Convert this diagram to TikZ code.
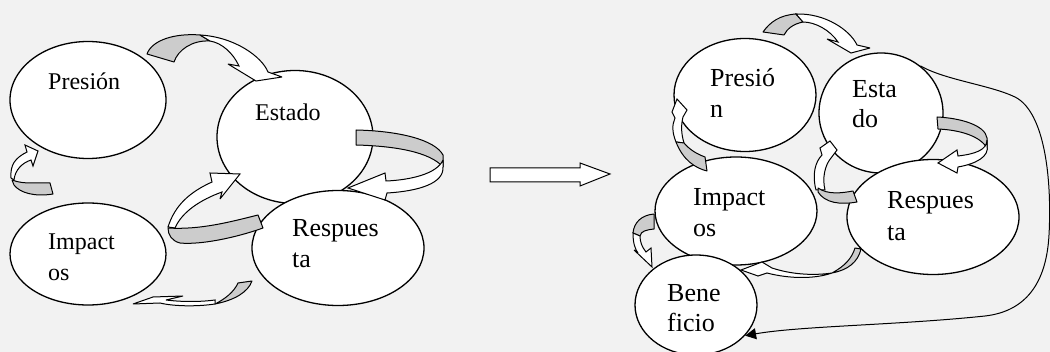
\documentclass[tikz,border=0pt]{standalone}
\usepackage{fontspec}
\setmainfont{Liberation Serif}
\usetikzlibrary{shapes.geometric,arrows.meta}
\definecolor{bg}{HTML}{F2F2F2}
\definecolor{band}{HTML}{CCCCCC}
\newcommand\lfa{\fontsize{24}{30}\selectfont}
\newcommand\lfb{\fontsize{26}{32}\selectfont}
\begin{document}
\begin{tikzpicture}[x=1pt,y=-1pt,
 ell/.style={ellipse,draw,fill=white,line width=1.3pt,inner sep=0},
 lbla/.style={anchor=base west,inner sep=0,font=\lfa},
 lblb/.style={anchor=base west,inner sep=0,font=\lfb},
 back/.style={fill=band,draw,line width=1pt,line join=round},
 front/.style={fill=white,draw,line width=1pt,line join=miter,miter limit=4},
 conn/.style={draw,line width=1pt}]
\fill[bg] (0,0) rectangle (1050,352);
\useasboundingbox (0,0) rectangle (1050,352);

% left diagram
\node[ell,minimum width=156pt,minimum height=117pt] (p1) at (88,100) {};
\node[ell,minimum width=156pt,minimum height=133pt] (e1) at (295,137) {};
\node[ell,minimum width=156pt,minimum height=102pt] (i1) at (88,254) {};
\node[ell,minimum width=172pt,minimum height=115pt] (r1) at (338,248) {};
\node[lbla] (tp1) at (48,90) {Presión};
\node[lbla] (te1) at (255,121) {Estado};
\node[lbla] (ti1a) at (48,250) {Impact};
\node[lbla] (ti1b) at (48,281) {os};
\node[lblb] (tr1a) at (292,237) {Respues};
\node[lblb] (tr1b) at (292,268) {ta};

% A1
\filldraw[back] (147,54) .. controls (152,40) and (175,33) .. (200,35) -- (210,41) .. controls (192,40) and (178,50) .. (174,62) -- cycle;
\filldraw[front] (200,35) .. controls (235,37) and (262,57) .. (268,72) -- (282,77) -- (256,81) -- (228,64) -- (239,66) .. controls (233,53) and (222,43) .. (210,41) -- cycle;
% A2
\filldraw[back] (356,130) .. controls (400,131) and (435,140) .. (443,155) -- (443,167) .. controls (430,152) and (395,146) .. (356,145) -- cycle;
\filldraw[front] (443,160) .. controls (437,174) and (410,180) .. (386,181) -- (385,173) -- (348,188) -- (385,200) -- (387,193) .. controls (420,191) and (444,183) .. (443,167) -- cycle;
% A3
\filldraw[front] (168,227) .. controls (175,205) and (190,192) .. (212,182) -- (210,173) -- (240,174) -- (220,199) -- (222,192) .. controls (200,200) and (182,212) .. (175,228) -- cycle;
\filldraw[back] (168,228) .. controls (200,230) and (230,222) .. (258,215) -- (263,228) .. controls (235,238) and (200,245) .. (180,243) .. controls (172,241) and (168,235) .. (168,228) -- cycle;
% A4
\filldraw[front] (11,178) .. controls (10,165) and (15,158) .. (27,152) -- (25,145) -- (38,151) -- (33,166) -- (31,160) .. controls (22,163) and (15,170) .. (14,180) -- cycle;
\filldraw[back] (12,180) .. controls (25,185) and (38,182) .. (50,183) -- (53,194) .. controls (35,197) and (20,193) .. (14,185) -- cycle;
% A5
\filldraw[back] (238,283) -- (252,281) .. controls (248,292) and (235,300) .. (215,304) .. controls (225,299) and (234,292) .. (238,283) -- cycle;
\filldraw[front] (215,304) .. controls (195,307) and (172,306) .. (160,303) -- (133,304) -- (153,297) -- (183,296) -- (166,300) .. controls (182,302) and (200,302) .. (215,300) -- cycle;

% big arrow
\filldraw[front] (490,168) -- (580,168) -- (580,163) -- (610,174) -- (580,186) -- (580,182) -- (490,182) -- cycle;

% right diagram
\node[ell,minimum width=142pt,minimum height=113pt] (p2) at (745,95) {};
\node[ell,minimum width=124pt,minimum height=120pt] (e2) at (881,113) {};
\node[ell,minimum width=162pt,minimum height=108pt] (i2) at (736,211) {};
\node[ell,minimum width=172pt,minimum height=115pt] (r2) at (933,217) {};
\node[ell,minimum width=122pt,minimum height=100pt] (b2) at (696,305) {};
\node[lblb] (tp2a) at (710,87) {Presió};
\node[lblb] (tp2b) at (710,118) {n};
\node[lblb] (te2a) at (852,98) {Esta};
\node[lblb] (te2b) at (852,128) {do};
\node[lblb] (ti2a) at (693,206) {Impact};
\node[lblb] (ti2b) at (693,237) {os};
\node[lblb] (tr2a) at (887,209) {Respues};
\node[lblb] (tr2b) at (887,241) {ta};
\node[lblb] (tb2a) at (667,302) {Bene};
\node[lblb] (tb2b) at (667,332) {ficio};

\draw[conn,-{Triangle[length=11pt,width=11pt]}] (e2.50) .. controls (945,80) and (990,85) .. (1015,97) .. controls (1045,112) and (1052,180) .. (1049,235) .. controls (1046,290) and (1020,312) .. (985,316) .. controls (900,325) and (800,326) .. (b2.-32);

% B1
\filldraw[back] (763,32) .. controls (770,22) and (780,15) .. (796,14) -- (803,22) .. controls (793,24) and (787,29) .. (784,35) -- cycle;
\filldraw[front] (796,14) .. controls (825,13) and (850,30) .. (857,45) -- (870,48) -- (851,53) -- (827,39) -- (838,42) .. controls (830,30) and (815,22) .. (803,22) -- cycle;
% B2
\filldraw[back] (937,117) .. controls (960,118) and (985,125) .. (987,138) -- (987,148) .. controls (980,136) and (960,130) .. (938,129) -- cycle;
\filldraw[front] (987,140) .. controls (987,150) and (975,154) .. (958,156) -- (957,150) -- (938,163) -- (957,173) -- (958,167) .. controls (975,164) and (990,157) .. (987,145) -- cycle;
% B3
\filldraw[front] (816,190) .. controls (812,175) and (815,162) .. (822,155) -- (820,148) -- (830,141) -- (837,150) -- (831,158) .. controls (825,165) and (822,178) .. (825,190) -- cycle;
\filldraw[back] (818,188) .. controls (828,195) and (842,193) .. (853,191) -- (857,202) .. controls (840,205) and (825,203) .. (818,192) -- cycle;
% B4
\filldraw[front] (676,142) .. controls (672,132) and (672,125) .. (675,118) -- (672,112) -- (677,99) -- (687,110) -- (683,117) .. controls (681,125) and (681,133) .. (684,143) -- cycle;
\filldraw[back] (676,142) -- (684,143) .. controls (690,150) and (697,154) .. (705,157) -- (707,171) .. controls (695,168) and (683,160) .. (676,142) -- cycle;
% B5
\filldraw[back] (654,214) .. controls (642,215) and (634,222) .. (633,233) -- (640,236) .. controls (641,231) and (646,230) .. (654,229) -- cycle;
\filldraw[front] (633,233) .. controls (633,243) and (635,249) .. (638,253) -- (634,250) -- (652,267) -- (651,248) -- (646,252) .. controls (642,247) and (640,242) .. (640,236) -- cycle;
% B6
\filldraw[back] (855,248) -- (861,249) .. controls (858,262) and (848,270) .. (832,273) .. controls (845,266) and (852,258) .. (855,248) -- cycle;
\filldraw[front] (832,273) .. controls (812,276) and (790,274) .. (772,268) -- (762,262) -- (741,270) -- (758,276) -- (767,273) .. controls (790,279) and (815,279) .. (832,273) -- cycle;
\end{tikzpicture}
\end{document}
